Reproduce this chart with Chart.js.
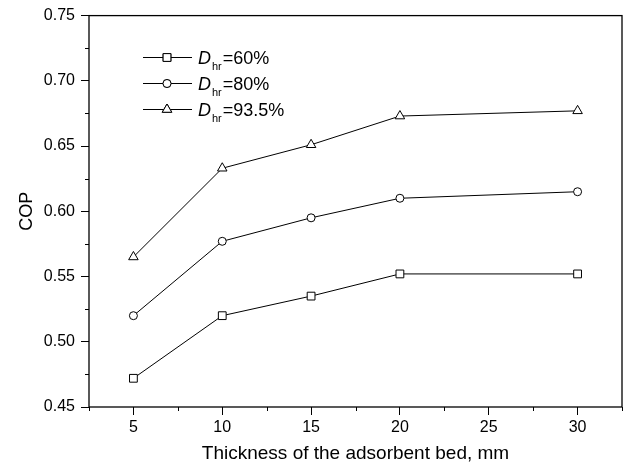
<!DOCTYPE html>
<html>
<head>
<meta charset="utf-8">
<script src="https://cdn.jsdelivr.net/npm/chart.js@4"></script>
<style>
html,body{margin:0;padding:0;background:#fff;}
#wrap{width:629px;height:472px;}
</style>
</head>
<body>
<div id="wrap"><canvas id="c" width="629" height="472"></canvas></div>
<script>
// Data
const thickness = [5, 10, 15, 20, 30];
const cop60 = [0.472, 0.520, 0.535, 0.552, 0.552];
const cop80 = [0.520, 0.577, 0.595, 0.610, 0.615];
const cop935 = [0.565, 0.633, 0.651, 0.673, 0.677];
const seriesLabels = ['60%', '80%', '93.5%'];
const pointStyles = ['rect', 'circle', 'triangle'];
const pointSizes = [5.5, 4, 5.5];
const xTitle = 'Thickness of the adsorbent bed, mm';
const yTitle = 'COP';

const FONT = "'Liberation Sans', Arial, Helvetica, sans-serif";

function pts(ys) { return thickness.map((x, i) => ({x: x, y: ys[i]})); }

function isMajor(v, step) {
  const r = v / step;
  return Math.abs(r - Math.round(r)) < 1e-6;
}

const boxAndMinor = {
  id: 'boxAndMinor',
  afterDraw(chart) {
    const ctx = chart.ctx;
    const a = chart.chartArea;
    ctx.save();
    ctx.strokeStyle = '#000';
    ctx.lineWidth = 1.3;
    ctx.strokeRect(a.left, a.top, a.right - a.left, a.bottom - a.top);
    ctx.lineWidth = 1;
    ctx.beginPath();
    const xs = chart.scales.x, ys = chart.scales.y;
    xs.ticks.forEach(t => {
      if (!isMajor(t.value, 5)) {
        const px = Math.round(xs.getPixelForValue(t.value)) + 0.5;
        ctx.moveTo(px, a.bottom); ctx.lineTo(px, a.bottom + 4);
      }
    });
    ys.ticks.forEach(t => {
      if (!isMajor(t.value, 0.05)) {
        const py = Math.round(ys.getPixelForValue(t.value)) + 0.5;
        ctx.moveTo(a.left, py); ctx.lineTo(a.left - 4, py);
      }
    });
    ctx.stroke();

    // Legend
    const rows = [57, 83, 109];
    rows.forEach((ry, i) => {
      ctx.strokeStyle = '#000';
      ctx.lineWidth = 1;
      ctx.beginPath();
      ctx.moveTo(143, ry + 0.5); ctx.lineTo(192, ry + 0.5);
      ctx.stroke();
      ctx.fillStyle = '#fff';
      Chart.helpers.drawPoint(ctx, {pointStyle: pointStyles[i], radius: pointSizes[i], borderWidth: 1, rotation: 0}, 167, ry + 0.5);
      ctx.fill();
      ctx.stroke();
      ctx.fillStyle = '#000';
      ctx.textBaseline = 'alphabetic';
      ctx.textAlign = 'left';
      ctx.font = 'italic 18px ' + FONT;
      ctx.fillText('D', 198, ry + 6.5);
      let x = 198 + ctx.measureText('D').width + 1;
      ctx.font = '11px ' + FONT;
      ctx.fillText('hr', x, ry + 13);
      x += ctx.measureText('hr').width + 1;
      ctx.font = '18px ' + FONT;
      ctx.fillText('=' + seriesLabels[i], x, ry + 6.5);
    });
    ctx.restore();
  }
};

const datasets = [cop60, cop80, cop935].map((d, i) => ({
  label: seriesLabels[i],
  data: pts(d),
  borderColor: '#000',
  borderWidth: 1,
  backgroundColor: '#fff',
  pointStyle: pointStyles[i],
  pointRadius: pointSizes[i],
  pointHoverRadius: pointSizes[i],
  pointBorderWidth: 1,
  pointBorderColor: '#000',
  pointBackgroundColor: '#fff',
  tension: 0,
  fill: false
}));

new Chart(document.getElementById('c'), {
  type: 'line',
  data: {datasets},
  options: {
    responsive: false,
    animation: false,
    devicePixelRatio: 1,
    layout: {padding: {top: 14, right: 7, left: 0, bottom: 0}},
    plugins: {legend: {display: false}, tooltip: {enabled: false}},
    scales: {
      x: {
        type: 'linear',
        min: 2.5, max: 32.5,
        afterFit: s => { s.height = 65; },
        afterBuildTicks: s => {
          const t = [];
          for (let v = 2.5; v <= 32.5 + 1e-9; v += 2.5) t.push({value: Math.round(v * 10) / 10});
          s.ticks = t;
        },
        ticks: {
          autoSkip: false, maxRotation: 0, padding: 3,
          color: '#000', font: {family: FONT, size: 16},
          callback: v => isMajor(v, 5) ? String(v) : ''
        },
        grid: {
          drawOnChartArea: false, drawTicks: true, tickLength: 8,
          tickColor: c => (c.tick && isMajor(c.tick.value, 5)) ? '#000' : 'rgba(0,0,0,0)',
          tickWidth: 1
        },
        border: {display: false},
        title: {display: true, text: xTitle, color: '#000', font: {family: FONT, size: 19}, padding: {top: 0, bottom: 7}}
      },
      y: {
        type: 'linear',
        min: 0.45, max: 0.75,
        afterFit: s => { s.width = 89; },
        afterBuildTicks: s => {
          const t = [];
          for (let k = 0; k <= 12; k++) t.push({value: Math.round((0.45 + k * 0.025) * 1000) / 1000});
          s.ticks = t;
        },
        ticks: {
          autoSkip: false, padding: 6,
          color: '#000', font: {family: FONT, size: 16},
          callback: v => isMajor(v, 0.05) ? Number(v).toFixed(2) : ''
        },
        grid: {
          drawOnChartArea: false, drawTicks: true, tickLength: 8,
          tickColor: c => (c.tick && isMajor(c.tick.value, 0.05)) ? '#000' : 'rgba(0,0,0,0)',
          tickWidth: 1
        },
        border: {display: false},
        title: {display: true, text: yTitle, color: '#000', font: {family: FONT, size: 18}, padding: {top: 16, bottom: 0}}
      }
    }
  },
  plugins: [boxAndMinor]
});
</script>
</body>
</html>
